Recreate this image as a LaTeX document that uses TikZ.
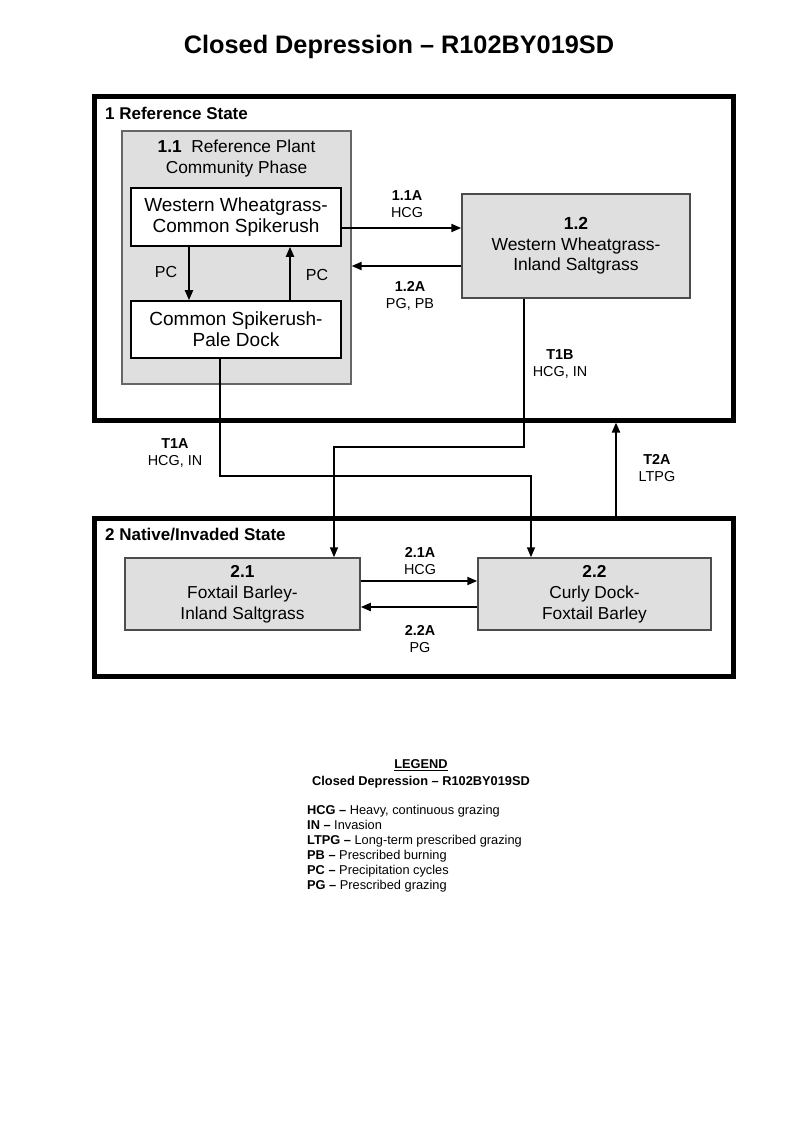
\documentclass[tikz,border=0pt]{standalone}
\usepackage{fontspec}
\setmainfont{Liberation Sans}
\usetikzlibrary{arrows.meta}

\begin{document}
\begin{tikzpicture}[x=1pt, y=-1pt,
  statebox/.style={draw, line width=5pt},
  phasebox/.style={draw=black!60, fill=gray!25, line width=1.2pt},
  plantbox/.style={draw, fill=white, line width=1.6pt, align=center, inner sep=0pt, font=\fontsize{19}{21}\selectfont},
  commbox/.style={draw=black!70, fill=gray!25, line width=1.5pt, align=center, inner sep=0pt},
  arr/.style={line width=2pt, -{Triangle[length=10pt, width=8pt]}},
  trans/.style={line width=1.5pt, -{Triangle[length=10pt, width=8pt]}},
  lbl/.style={align=center, inner sep=0pt, font=\fontsize{14.4}{17}\selectfont}]
\fill[white] (0,0) rectangle (800,1143);

% title
\node (title) at (399,47) [font=\fontsize{25.3}{30}\selectfont\bfseries]{Closed Depression – R102BY019SD};

% state 1
\node (s1) at (413.5,258) [statebox, minimum width=639pt, minimum height=324pt]{};
\node (s1lbl) at (105,113) [anchor=west, inner sep=0pt, font=\fontsize{17}{20}\selectfont\bfseries]{1 Reference State};
\node (ph11) at (236.5,257.5) [phasebox, minimum width=229pt, minimum height=253pt]{};
\node (ph11lbl) at (236.5,158.5) [align=center, inner sep=0pt, font=\fontsize{17.3}{21}\selectfont]{\textbf{1.1}\ \ Reference Plant\\Community Phase};
\node (wc) at (236,217) [plantbox, minimum width=210pt, minimum height=58pt]{Western Wheatgrass-\\Common Spikerush};
\node (cp) at (236,329.5) [plantbox, minimum width=210pt, minimum height=57pt]{Common Spikerush-\\Pale Dock};
\node (p12) at (576,246) [commbox, minimum width=228pt, minimum height=104pt, font=\fontsize{17.5}{20.5}\selectfont]{\textbf{1.2}\\Western Wheatgrass-\\Inland Saltgrass};

% state 2
\node (s2) at (413.5,597) [statebox, minimum width=639pt, minimum height=158pt]{};
\node (s2lbl) at (105,535) [anchor=west, inner sep=0pt, font=\fontsize{17}{20}\selectfont\bfseries]{2 Native/Invaded State};
\node (p21) at (242.5,594) [commbox, minimum width=235pt, minimum height=72pt, font=\fontsize{17.3}{21}\selectfont]{\textbf{2.1}\\Foxtail Barley-\\Inland Saltgrass};
\node (p22) at (594.5,594) [commbox, minimum width=233pt, minimum height=72pt, font=\fontsize{17.3}{21}\selectfont]{\textbf{2.2}\\Curly Dock-\\Foxtail Barley};

% pathways
\coordinate (pcdown) at ([xshift=-47pt]wc.south);
\coordinate (pcup) at ([xshift=54pt]cp.north);
\draw[arr] (pcdown) -- (pcdown |- cp.north);
\draw[arr] (pcup) -- (pcup |- wc.south);
\node (pcdlbl) at (166,272) [lbl, font=\fontsize{16}{19}\selectfont]{PC};
\node (pculbl) at (317,275) [lbl, font=\fontsize{16}{19}\selectfont]{PC};

\coordinate (a11) at ([yshift=-11pt]wc.east);
\coordinate (a12) at ([yshift=-20pt]p12.west);
\draw[arr] (a11) -- (a11 -| p12.west);
\draw[arr] (a12) -- (a12 -| ph11.east);
\node (a11lbl) at (407,204.5) [lbl]{\textbf{1.1A}\\HCG};
\node (a12lbl) at (410,295.5) [lbl]{\textbf{1.2A}\\PG, PB};

\coordinate (a21) at ([yshift=13pt]p21.east);
\coordinate (a22) at ([yshift=-13pt]p22.west);
\draw[arr] (a21) -- (a21 -| p22.west);
\draw[arr] (a22) -- (a22 -| p21.east);
\node (a21lbl) at (420,561.5) [lbl]{\textbf{2.1A}\\HCG};
\node (a22lbl) at (420,639.5) [lbl]{\textbf{2.2A}\\PG};

% transitions
\coordinate (t1astart) at ([xshift=-16pt]cp.south);
\coordinate (t1aknee) at (531,476);
\draw[trans] (t1astart) |- (t1aknee) -- (t1aknee |- p22.north);
\coordinate (t1bstart) at ([xshift=-52pt]p12.south);
\coordinate (t1bknee) at (334,447);
\draw[trans] (t1bstart) |- (t1bknee) -- (t1bknee |- p21.north);
\coordinate (t2astart) at ([xshift=202.5pt]s2.north);
\draw[arr] (t2astart) -- (t2astart |- s1.south);
\node (t1albl) at (175,452.5) [lbl]{\textbf{T1A}\\HCG, IN};
\node (t1blbl) at (560,364) [lbl]{\textbf{T1B}\\HCG, IN};
\node (t2albl) at (657,468) [lbl]{\textbf{T2A}\\LTPG};

% legend
\node (legtitle) at (421,765) [font=\fontsize{12.8}{15}\selectfont\bfseries]{\underline{LEGEND}};
\node (legsub) at (421,782) [font=\fontsize{12.8}{15}\selectfont\bfseries]{Closed Depression – R102BY019SD};
\node (legbody) at (307,849) [anchor=west, align=left, inner sep=0pt, font=\fontsize{12.8}{15}\selectfont]{\textbf{HCG –} Heavy, continuous grazing\\\textbf{IN –} Invasion\\\textbf{LTPG –} Long-term prescribed grazing\\\textbf{PB –} Prescribed burning\\\textbf{PC –} Precipitation cycles\\\textbf{PG –} Prescribed grazing};
\end{tikzpicture}
\end{document}
